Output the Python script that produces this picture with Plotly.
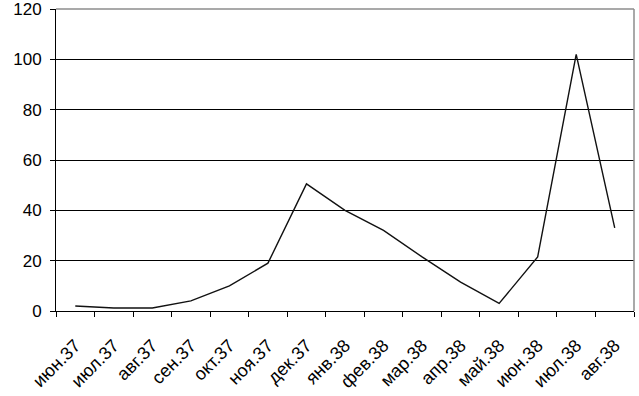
import plotly.graph_objects as go

months = ["июн.37", "июл.37", "авг.37", "сен.37", "окт.37", "ноя.37", "дек.37",
          "янв.38", "фев.38", "мар.38", "апр.38", "май.38", "июн.38", "июл.38", "авг.38"]
values = [2, 1.2, 1.2, 4, 10, 19, 50.5, 40, 32, 21.5, 11.5, 3, 21.5, 102, 33]

y_ticks = [0, 20, 40, 60, 80, 100, 120]

fig = go.Figure()
fig.add_trace(go.Scatter(
    x=months, y=values, mode="lines",
    line=dict(color="#111111", width=1.4),
    showlegend=False,
))

xfont = dict(family="Liberation Sans, Arial, sans-serif", size=18, color="#000000")
yfont = dict(family="Liberation Sans, Arial, sans-serif", size=17, color="#000000")

fig.update_layout(
    width=639, height=396,
    margin=dict(l=56, r=5, t=9, b=85),
    paper_bgcolor="white", plot_bgcolor="white",
    font=yfont,
    xaxis=dict(
        type="category",
        tickson="boundaries",
        ticks="outside", ticklen=5, tickcolor="black", tickwidth=1,
        showline=True, linecolor="black", linewidth=1,
        showgrid=False, tickangle=-45,
        tickfont=xfont, automargin=False, ticklabelstandoff=16,
        range=[-0.5, len(months) - 0.5],
    ),
    yaxis=dict(
        range=[0, 120], tickvals=y_ticks,
        ticks="outside", ticklen=5, tickcolor="black", tickwidth=1,
        showline=True, linecolor="black", linewidth=1,
        showgrid=True, gridcolor="black", gridwidth=1,
        zeroline=False, tickfont=yfont, automargin=False,
        ticklabeloverflow="allow", ticklabelstandoff=5,
    ),
    shapes=[
        dict(type="line", xref="paper", yref="paper", x0=0, x1=1, y0=1, y1=1,
             line=dict(color="#8c8c8c", width=1.5), layer="above"),
        dict(type="line", xref="paper", yref="paper", x0=1, x1=1, y0=0, y1=1,
             line=dict(color="#8c8c8c", width=1.5), layer="above"),
    ],
)

fig.write_html("out.html")
